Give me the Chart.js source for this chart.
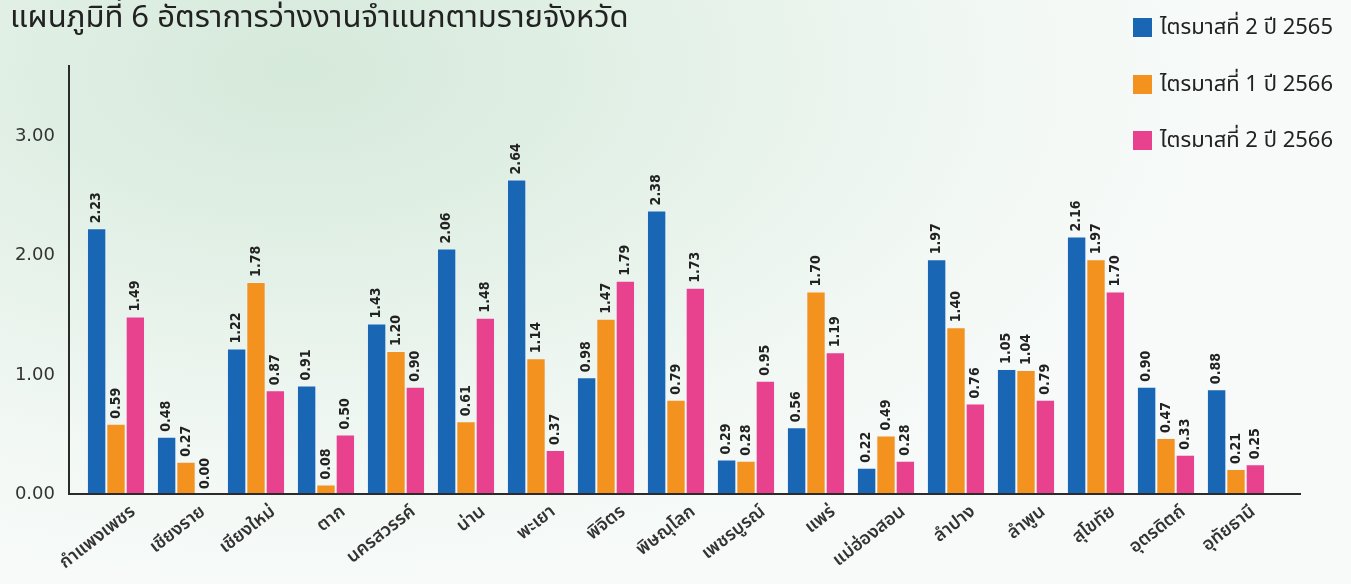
<!DOCTYPE html>
<html>
<head>
<meta charset="utf-8">
<script src="https://cdn.jsdelivr.net/npm/chart.js@4.4.0/dist/chart.umd.min.js"></script>
<style>
    html, body { margin: 0; padding: 0; }
    body {
        width: 1351px; height: 584px; overflow: hidden; position: relative;
        background: radial-gradient(ellipse 70% 90% at 22% 12%, #d5e9da 0%, #e4f1e8 40%, #f2f8f4 75%, #f7faf9 100%);
        font-family: 'Noto Sans Thai', 'Noto Sans', 'DejaVu Sans', sans-serif;
    }
    #title {
        position: absolute; left: 10px; top: -6px; font-size: 31px; color: #222; white-space: nowrap;
    }
    #legend { position: absolute; left: 1133px; top: 17px; }
    .item { position: absolute; left: 0; white-space: nowrap; font-size: 22px; color: #222; }
    .item span.box { position: absolute; left: 0; top: 1px; width: 19px; height: 19px; }
    .item span.txt { position: absolute; left: 27px; top: -6px; }
    #wrap { position: absolute; left: 0; top: 0; width: 1351px; height: 584px; }
</style>
</head>
<body>
<div id="wrap"><canvas id="chart" width="1351" height="584"></canvas></div>
<div id="title">แผนภูมิที่ 6 อัตราการว่างงานจำแนกตามรายจังหวัด</div>
<div id="legend"></div>
<script>
// Unemployment rate by province
const provinces = ['กำแพงเพชร', 'เชียงราย', 'เชียงใหม่', 'ตาก', 'นครสวรรค์', 'น่าน', 'พะเยา', 'พิจิตร',
    'พิษณุโลก', 'เพชรบูรณ์', 'แพร่', 'แม่ฮ่องสอน', 'ลำปาง', 'ลำพูน', 'สุโขทัย', 'อุตรดิตถ์', 'อุทัยธานี'];
const q2y2565 = [2.23, 0.48, 1.22, 0.91, 1.43, 2.06, 2.64, 0.98, 2.38, 0.29, 0.56, 0.22, 1.97, 1.05, 2.16, 0.90, 0.88];
const q1y2566 = [0.59, 0.27, 1.78, 0.08, 1.20, 0.61, 1.14, 1.47, 0.79, 0.28, 1.70, 0.49, 1.40, 1.04, 1.97, 0.47, 0.21];
const q2y2566 = [1.49, 0.00, 0.87, 0.50, 0.90, 1.48, 0.37, 1.79, 1.73, 0.95, 1.19, 0.28, 0.76, 0.79, 1.70, 0.33, 0.25];
const seriesNames = ['ไตรมาสที่ 2 ปี 2565', 'ไตรมาสที่ 1 ปี 2566', 'ไตรมาสที่ 2 ปี 2566'];
const yTicks = [0, 1, 2, 3];

const colors = ['#1866b4', '#f4921f', '#e8418d'];
const thaiFont = "'Noto Sans Thai', 'Noto Sans', 'DejaVu Sans', sans-serif";

// legend as html
const legendEl = document.getElementById('legend');
seriesNames.forEach((name, i) => {
    const div = document.createElement('div');
    div.className = 'item';
    div.style.top = (i * 56.5) + 'px';
    div.innerHTML = '<span class="box" style="background:' + colors[i] + '"></span><span class="txt">' + name + '</span>';
    legendEl.appendChild(div);
});

// value labels above each bar, rotated
const valueLabels = {
    id: 'valueLabels',
    afterDatasetsDraw(chart) {
        const ctx = chart.ctx;
        ctx.save();
        ctx.font = "bold 14px 'DejaVu Sans Condensed', sans-serif";
        ctx.fillStyle = '#222';
        ctx.textAlign = 'left';
        ctx.textBaseline = 'middle';
        chart.data.datasets.forEach((ds, di) => {
            chart.getDatasetMeta(di).data.forEach((bar, i) => {
                ctx.save();
                ctx.translate(bar.x, bar.y - 5);
                ctx.rotate(-Math.PI / 2);
                ctx.fillText(ds.data[i].toFixed(2), 0, 0);
                ctx.restore();
            });
        });
        ctx.restore();
    }
};

// axis lines that run a little past the plot area
const axisLines = {
    id: 'axisLines',
    afterDatasetsDraw(chart) {
        const ctx = chart.ctx;
        const a = chart.chartArea;
        const y0 = chart.scales.y.getPixelForValue(0);
        ctx.save();
        ctx.strokeStyle = '#2b2b2b';
        ctx.lineWidth = 2;
        ctx.beginPath();
        ctx.moveTo(a.left - 12, a.top);
        ctx.lineTo(a.left - 12, y0);
        ctx.lineTo(a.right + 30, y0);
        ctx.stroke();
        ctx.restore();
    }
};

new Chart(document.getElementById('chart').getContext('2d'), {
    type: 'bar',
    data: {
        labels: provinces,
        datasets: [q2y2565, q1y2566, q2y2566].map((d, i) => ({
            label: seriesNames[i],
            data: d,
            backgroundColor: colors[i],
            borderColor: 'rgba(235,245,255,0.8)',
            borderWidth: 1,
            barPercentage: 1.0,
            categoryPercentage: 0.83
        }))
    },
    options: {
        responsive: false,
        animation: false,
        layout: { padding: { top: 65, right: 80, left: 0, bottom: 0 } },
        plugins: { legend: { display: false }, tooltip: { enabled: false } },
        scales: {
            x: {
                grid: { display: false },
                border: { display: false },
                afterFit(s) { s.height = 90; },
                ticks: {
                    color: '#333',
                    font: { family: thaiFont, size: 18, weight: '600' },
                    minRotation: 38, maxRotation: 38,
                    autoSkip: false,
                    labelOffset: 18,
                    padding: 0
                }
            },
            y: {
                min: 0, max: 3.6,
                grid: { display: false, drawTicks: false },
                border: { display: false },
                afterFit(s) { s.width = 81; },
                afterBuildTicks(s) { s.ticks = yTicks.map(v => ({ value: v })); },
                ticks: {
                    color: '#333',
                    padding: 26,
                    font: { family: "'DejaVu Sans', sans-serif", size: 18 },
                    callback: v => v.toFixed(2)
                }
            }
        }
    },
    plugins: [valueLabels, axisLines]
});
</script>
</body>
</html>
